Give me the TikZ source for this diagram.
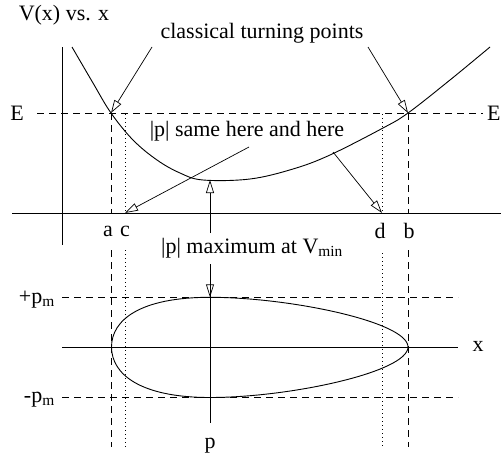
\documentclass[tikz,border=0pt]{standalone}
\usepackage{fontspec}
\setmainfont{Liberation Serif}
\usetikzlibrary{arrows.meta}

\begin{document}
\begin{tikzpicture}[
  x=1pt,y=-1pt,
  lbl/.style={inner sep=1pt,font=\fontsize{22}{26}\selectfont},
  ax/.style={line width=0.9pt},
  dsh/.style={line width=0.9pt,dash pattern=on 7pt off 5pt},
  dotline/.style={line width=0.9pt,dash pattern=on 1pt off 3pt},
  arr/.style={-{Triangle[open,length=13pt,width=8pt]},line width=0.7pt}]
\useasboundingbox (0,0) rectangle (501,463);
% points on the curves
\coordinate (ta) at (111,113); \coordinate (tb) at (408,113);
\coordinate (vmin) at (210,180);
\coordinate (xc) at (125,213); \coordinate (xd) at (382,213);
\coordinate (ptop) at (210,297.3);
\coordinate (up0) at (210,233); \coordinate (dn0) at (210,264);
\coordinate (ctpa) at (152,47); \coordinate (ctpb) at (368,47);
\coordinate (samec) at (249,147); \coordinate (samed) at (333,152);
% labels
\node[lbl] (title) at (64,15) {V(x) vs. x};
\node[lbl] (ctp) at (262,33) {classical turning points};
\node[lbl] (same) at (247,131) {\textbar p\textbar{} same here and here};
\node[lbl] (eleft) at (17,113) {E};
\node[lbl,anchor=west] (eright) at (486,113) {E};
\node[lbl] (la) at (108,231) {a};
\node[lbl] (lc) at (125,231) {c};
\node[lbl] (ld) at (380,231) {d};
\node[lbl] (lb) at (409,231) {b};
\node[lbl] (pmax) at (252,248) {\textbar p\textbar{} maximum at V\textsubscript{min}};
\node[lbl,anchor=east] (ppm) at (56,300) {+p\textsubscript{m}};
\node[lbl,anchor=east] (mpm) at (56,400) {-p\textsubscript{m}};
\node[lbl] (xlbl) at (478,346) {x};
\node[lbl] (plbl) at (210,446) {p};
% top plot: V(x)
\draw[ax] (62,47) -- (62,245);
\draw[ax] (12,213) -- (501,213);
\draw[dsh] (37,113) -- (483,113);
\draw[ax] plot[smooth,tension=0.6] coordinates {(72,47) (93,83) (111,113)
  (133,140) (157,160) (180,173) (203,180) (250,179) (293,169) (330,155)
  (383,128) (408,113) (450,80) (490,47)};
\draw[dsh] (ta) -- (111,213) (111,250) -- (111,447);
\draw[dsh] (tb) -- (408,213) (408,250) -- (408,447);
\draw[dotline] (125,114) -- (xc) (125,250) -- (125,447);
\draw[dotline] (382,114) -- (xd) (382,253) -- (382,447);
% phase plot: p vs. x
\draw[ax] (62,347) -- (458,347);
\draw[ax] (dn0) -- (210,423);
\draw[dsh] (62,297.3) -- (458,297.3);
\draw[dsh] (62,397.7) -- (458,397.7);
\draw[ax] (111.5,347) .. controls (111.5,320) and (140,297.3) .. (ptop)
  .. controls (290,297.3) and (408,322) .. (408,347)
  .. controls (408,372) and (290,397.5) .. (210,397.5)
  .. controls (140,397.5) and (111.5,374) .. cycle;
% arrows
\draw[arr] (ctpa) -- (ta);
\draw[arr] (ctpb) -- (tb);
\draw[arr] (samec) -- (xc);
\draw[arr] (samed) -- (xd);
\draw[arr] (up0) -- (vmin);
\draw[arr] (dn0) -- (ptop);
\end{tikzpicture}
\end{document}
